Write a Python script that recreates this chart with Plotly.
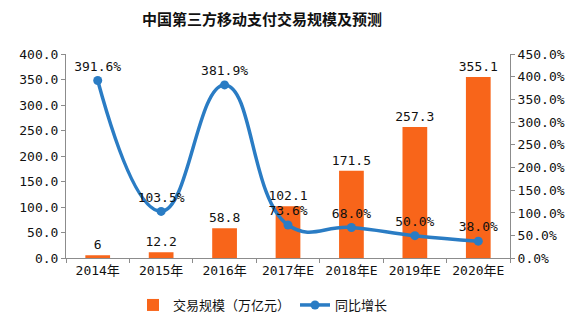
import plotly.graph_objects as go

categories = ["2014年", "2015年", "2016年", "2017年E", "2018年E", "2019年E", "2020年E"]
scale_values = [6, 12.2, 58.8, 102.1, 171.5, 257.3, 355.1]
growth_values = [391.6, 103.5, 381.9, 73.6, 68.0, 50.0, 38.0]
bar_labels = ["6", "12.2", "58.8", "102.1", "171.5", "257.3", "355.1"]
growth_labels = ["391.6%", "103.5%", "381.9%", "73.6%", "68.0%", "50.0%", "38.0%"]

FONT = "DejaVu Sans Mono, Noto Sans CJK SC, sans-serif"
AXIS_COLOR = "#8c8c8c"

fig = go.Figure()
fig.add_trace(go.Bar(
    x=categories, y=scale_values, name="交易规模（万亿元）",
    marker=dict(color="#F8651A", line=dict(width=0)),
    width=0.39,
    text=bar_labels, textposition="outside", cliponaxis=False,
    constraintext="none",
    textfont=dict(family=FONT, size=13, color="#111111"),
))
fig.add_trace(go.Scatter(
    x=categories, y=growth_values, name="同比增长", yaxis="y2",
    mode="lines+markers+text",
    line=dict(color="#2A7CC4", width=3.5, shape="spline", smoothing=1.3),
    marker=dict(color="#2A7CC4", size=9),
    text=growth_labels, textposition="top center", cliponaxis=False,
    textfont=dict(family=FONT, size=13, color="#111111"),
))

fig.update_layout(
    width=577, height=322,
    margin=dict(l=66, r=66, t=54, b=62),
    paper_bgcolor="white", plot_bgcolor="white",
    font=dict(family=FONT, size=13, color="#111111"),
    title=dict(text="<b>中国第三方移动支付交易规模及预测</b>",
               x=262/577, xanchor="center", xref="container",
               y=1 - 20/322, yanchor="middle", yref="container",
               font=dict(family="Noto Sans CJK SC, sans-serif", size=15, color="#111111")),
    bargap=0.61,
    showlegend=True,
    legend=dict(orientation="h", xref="container", yref="container",
                x=263/577, xanchor="center", y=1 - 305/322, yanchor="middle",
                font=dict(family="Noto Sans CJK SC, sans-serif", size=13, color="#111111"),
                itemwidth=30, traceorder="normal"),
    xaxis=dict(type="category", showline=True, linecolor=AXIS_COLOR, linewidth=1,
               ticks="outside", tickson="boundaries", ticklen=4, tickcolor=AXIS_COLOR,
               showgrid=False, tickfont=dict(family=FONT, size=13)),
    yaxis=dict(range=[0, 400], dtick=50, tickformat=".1f", showline=True,
               linecolor=AXIS_COLOR, ticks="outside", ticklen=4, tickcolor=AXIS_COLOR,
               showgrid=False, zeroline=False, tickfont=dict(family=FONT, size=13)),
    yaxis2=dict(range=[0, 450], dtick=50, tickformat=".1f", ticksuffix="%",
                overlaying="y", side="right", showline=True,
                linecolor=AXIS_COLOR, ticks="outside", ticklen=4, tickcolor=AXIS_COLOR,
                showgrid=False, zeroline=False, tickfont=dict(family=FONT, size=13)),
)

fig.write_html("out.html")
